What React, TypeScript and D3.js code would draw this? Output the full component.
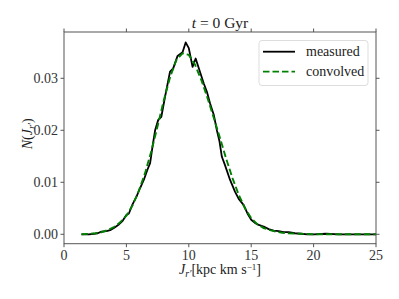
import React, { useEffect, useRef } from 'react';
import * as d3 from 'd3';

// measured distribution N(J_r')
const MEAS_X = [1.4, 1.7, 2.0, 2.4, 2.7, 3.0, 3.4, 3.7, 4.0, 4.4, 4.7, 5.0, 5.2, 5.5, 5.8, 6.1, 6.4, 6.7, 6.9, 7.1, 7.3, 7.55, 7.8, 8.1, 8.5, 8.75, 9.1, 9.5, 9.75, 10.0, 10.3, 10.55, 10.9, 11.2, 11.45, 11.7, 12.0, 12.25, 12.45, 12.65, 12.9, 13.3, 13.7, 14.0, 14.4, 14.7, 15.0, 15.3, 15.6, 16.0, 16.4, 16.8, 17.2, 17.6, 18.0, 18.5, 19.0, 19.5, 20, 21, 22, 23, 24, 25];
const MEAS_Y = [0, 0, 0, 0.0001, 0.0002, 0.0005, 0.0006, 0.0008, 0.0012, 0.0019, 0.0026, 0.0037, 0.004, 0.0058, 0.0072, 0.0089, 0.0105, 0.0125, 0.0137, 0.017, 0.02, 0.022, 0.0226, 0.0265, 0.0313, 0.0319, 0.0343, 0.035, 0.0369, 0.0358, 0.0322, 0.0338, 0.0312, 0.029, 0.0274, 0.0252, 0.023, 0.02, 0.018, 0.0149, 0.0133, 0.0105, 0.0082, 0.0068, 0.0056, 0.004, 0.0028, 0.0022, 0.0018, 0.0015, 0.001, 0.0007, 0.0006, 0.0004, 0.0004, 0.0002, 0.0001, 0, 0, 0.0001, 0, 0, 0, 0];

// convolved distribution
const CONV_X = [1.4, 2.0, 2.5, 3.0, 3.5, 4.0, 4.5, 5.0, 5.5, 6.0, 6.5, 7.0, 7.5, 8.0, 8.5, 9.0, 9.5, 10.0, 10.5, 11.0, 11.5, 12.0, 12.5, 13.0, 13.5, 14.0, 14.5, 15.0, 15.5, 16.0, 16.5, 17.0, 17.5, 18.0, 19.0, 20.0, 21, 22, 23, 24, 25];
const CONV_Y = [0, 0.0001, 0.0002, 0.0004, 0.0008, 0.0014, 0.0023, 0.0036, 0.0056, 0.0084, 0.0118, 0.016, 0.0208, 0.0258, 0.0302, 0.0335, 0.0348, 0.0345, 0.0326, 0.0297, 0.0262, 0.0224, 0.0185, 0.0145, 0.0108, 0.0076, 0.005, 0.0031, 0.0019, 0.0012, 0.0008, 0.0005, 0.0003, 0.0002, 0.0001, 0, 0, 0, 0, 0, 0];

const X_TICKS = [0, 5, 10, 15, 20, 25];
const Y_TICKS = [0, 0.01, 0.02, 0.03];

const FONT = '"Liberation Serif", "DejaVu Serif", serif';
const GREEN_DASH = '6.5,3';

export default function App() {
  const svgRef = useRef<SVGSVGElement>(null);

  useEffect(() => {
    if (!svgRef.current) return;
    const svg = d3.select(svgRef.current);
    svg.selectAll('*').remove();

    const left = 64, right = 376, top = 32, bottom = 243.7;
    const x = d3.scaleLinear().domain([0, 25]).range([left, right]);
    const y = d3.scaleLinear().domain([-0.00181, 0.0389]).range([bottom, top]);

    const line = d3.line<[number, number]>().x(d => x(d[0])).y(d => y(d[1]));

    const measured = MEAS_X.map((v, i) => [v, MEAS_Y[i]] as [number, number]);
    const convolved = CONV_X.map((v, i) => [v, CONV_Y[i]] as [number, number]);

    svg.append('path')
      .attr('d', line(measured))
      .attr('fill', 'none')
      .attr('stroke', '#000')
      .attr('stroke-width', 1.8)
      .attr('stroke-linejoin', 'round');

    svg.append('path')
      .attr('d', line(convolved))
      .attr('fill', 'none')
      .attr('stroke', '#008000')
      .attr('stroke-width', 1.9)
      .attr('stroke-dasharray', GREEN_DASH);

    // frame
    svg.append('rect')
      .attr('x', left).attr('y', top)
      .attr('width', right - left).attr('height', bottom - top)
      .attr('fill', 'none')
      .attr('stroke', '#555')
      .attr('stroke-width', 1);

    const tick = 3.5;
    X_TICKS.forEach(t => {
      const px = x(t);
      svg.append('line').attr('x1', px).attr('x2', px).attr('y1', bottom).attr('y2', bottom + tick)
        .attr('stroke', '#555');
      svg.append('line').attr('x1', px).attr('x2', px).attr('y1', top).attr('y2', top - tick)
        .attr('stroke', '#555');
      svg.append('text')
        .attr('x', px).attr('y', 260)
        .attr('text-anchor', 'middle')
        .attr('font-family', FONT).attr('font-size', 14).attr('fill', '#333')
        .text(String(t));
    });

    Y_TICKS.forEach(t => {
      const py = y(t);
      svg.append('line').attr('x1', left).attr('x2', left - tick).attr('y1', py).attr('y2', py)
        .attr('stroke', '#555');
      svg.append('line').attr('x1', right).attr('x2', right + tick).attr('y1', py).attr('y2', py)
        .attr('stroke', '#555');
      svg.append('text')
        .attr('x', 58).attr('y', py).attr('dy', '0.35em')
        .attr('text-anchor', 'end')
        .attr('font-family', FONT).attr('font-size', 14).attr('fill', '#333')
        .text(t.toFixed(2));
    });

    // title
    const title = svg.append('text')
      .attr('x', (left + right) / 2).attr('y', 28)
      .attr('text-anchor', 'middle')
      .attr('font-family', FONT).attr('font-size', 15.5).attr('fill', '#222');
    title.append('tspan').attr('font-style', 'italic').text('t');
    title.append('tspan').text(' = 0 Gyr');

    // x label
    const xl = svg.append('text')
      .attr('x', (left + right) / 2).attr('y', 274)
      .attr('text-anchor', 'middle')
      .attr('font-family', FONT).attr('font-size', 14).attr('fill', '#222');
    xl.append('tspan').attr('font-style', 'italic').text('J');
    xl.append('tspan').attr('font-style', 'italic').attr('font-size', 10).attr('dy', 3).text('r′');
    xl.append('tspan').attr('dy', -3).text('[kpc km s');
    xl.append('tspan').attr('font-size', 9).attr('dy', -4).text('−1');
    xl.append('tspan').attr('dy', 4).text(']');

    // y label
    const yl = svg.append('text')
      .attr('transform', `translate(32,${(top + bottom) / 2 - 4}) rotate(-90)`)
      .attr('text-anchor', 'middle')
      .attr('font-family', FONT).attr('font-size', 14).attr('fill', '#222');
    yl.append('tspan').attr('font-style', 'italic').text('N');
    yl.append('tspan').text('(');
    yl.append('tspan').attr('font-style', 'italic').text('J');
    yl.append('tspan').attr('font-style', 'italic').attr('font-size', 10).attr('dy', 3).text('r′');
    yl.append('tspan').attr('dy', -3).text(')');

    // legend
    const lg = svg.append('g');
    lg.append('rect')
      .attr('x', 259).attr('y', 40.5).attr('width', 109).attr('height', 45)
      .attr('rx', 3)
      .attr('fill', '#fff').attr('fill-opacity', 0.8)
      .attr('stroke', '#ddd').attr('stroke-width', 1);
    const items = [
      { label: 'measured', color: '#000', dash: null as string | null, y: 51.7 },
      { label: 'convolved', color: '#008000', dash: GREEN_DASH, y: 71.7 }
    ];
    items.forEach(it => {
      const l = lg.append('line')
        .attr('x1', 263).attr('x2', 295).attr('y1', it.y).attr('y2', it.y)
        .attr('stroke', it.color).attr('stroke-width', 1.8);
      if (it.dash) l.attr('stroke-dasharray', it.dash);
      lg.append('text')
        .attr('x', 306).attr('y', it.y + 4.5)
        .attr('font-family', FONT).attr('font-size', 14).attr('fill', '#222')
        .text(it.label);
    });
  }, []);

  return (
    <svg ref={svgRef} width={399} height={299}
      style={{ position: 'absolute', left: 0, top: 0, background: '#fff' }} />
  );
}
